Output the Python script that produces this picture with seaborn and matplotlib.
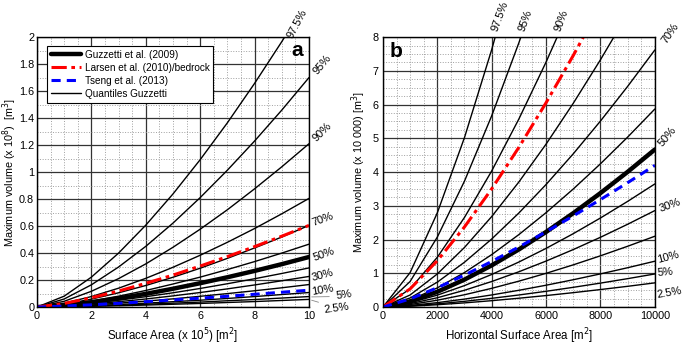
import numpy as np
import pandas as pd
import seaborn as sns
import matplotlib.pyplot as plt
from matplotlib.lines import Line2D
from matplotlib.ticker import MultipleLocator

# ---- data ----
quantiles = ['2.5%', '5%', '10%', '20%', '30%', '40%', '50%',
             '60%', '70%', '80%', '90%', '95%', '97.5%']

# panel a: surface area (x 10^5 m2), volume (x 10^8 m3)
area_a = [0, 1, 2, 3, 4, 5, 6, 7, 8, 9, 10]
quant_a = [
    [0, 0.002, 0.006, 0.010, 0.015, 0.021, 0.027, 0.034, 0.041, 0.049, 0.057],
    [0, 0.003, 0.008, 0.014, 0.021, 0.029, 0.037, 0.047, 0.056, 0.067, 0.078],
    [0, 0.004, 0.010, 0.019, 0.029, 0.040, 0.051, 0.064, 0.078, 0.093, 0.108],
    [0, 0.006, 0.016, 0.029, 0.044, 0.061, 0.080, 0.100, 0.121, 0.143, 0.167],
    [0, 0.008, 0.022, 0.040, 0.060, 0.083, 0.108, 0.135, 0.164, 0.195, 0.227],
    [0, 0.010, 0.028, 0.051, 0.077, 0.106, 0.138, 0.173, 0.210, 0.249, 0.290],
    [0, 0.013, 0.036, 0.065, 0.098, 0.136, 0.177, 0.221, 0.268, 0.318, 0.371],
    [0, 0.017, 0.045, 0.081, 0.123, 0.171, 0.222, 0.278, 0.337, 0.400, 0.466],
    [0, 0.021, 0.059, 0.106, 0.160, 0.221, 0.288, 0.361, 0.438, 0.519, 0.605],
    [0, 0.029, 0.078, 0.140, 0.213, 0.295, 0.384, 0.480, 0.582, 0.691, 0.805],
    [0, 0.043, 0.117, 0.211, 0.320, 0.443, 0.577, 0.721, 0.876, 1.039, 1.210],
    [0, 0.060, 0.165, 0.297, 0.450, 0.622, 0.811, 1.014, 1.230, 1.459, 1.700],
    [0, 0.081, 0.222, 0.400, 0.607, 0.838, 1.092, 1.365, 1.657, 1.966, 2.290],
]
guzzetti_a = [0, 0.013, 0.036, 0.065, 0.098, 0.136, 0.177, 0.221, 0.268, 0.318, 0.371]
larsen_a = [0, 0.027, 0.069, 0.119, 0.176, 0.237, 0.304, 0.374, 0.448, 0.525, 0.605]
tseng_a = [0, 0.007, 0.017, 0.028, 0.040, 0.053, 0.066, 0.080, 0.095, 0.110, 0.125]

# panel b: horizontal surface area (m2), volume (x 10 000 m3)
area_b = [0, 1000, 2000, 3000, 4000, 5000, 6000, 7000, 8000, 9000, 10000]
quant_b = [
    [0, 0.025, 0.070, 0.125, 0.190, 0.263, 0.342, 0.428, 0.520, 0.616, 0.718],
    [0, 0.035, 0.095, 0.171, 0.260, 0.359, 0.468, 0.586, 0.711, 0.843, 0.982],
    [0, 0.048, 0.132, 0.237, 0.360, 0.498, 0.648, 0.811, 0.984, 1.167, 1.360],
    [0, 0.075, 0.204, 0.366, 0.556, 0.769, 1.001, 1.252, 1.520, 1.803, 2.100],
    [0, 0.102, 0.277, 0.499, 0.758, 1.047, 1.364, 1.705, 2.069, 2.455, 2.860],
    [0, 0.130, 0.354, 0.637, 0.967, 1.336, 1.740, 2.176, 2.641, 3.133, 3.650],
    [0, 0.166, 0.453, 0.815, 1.237, 1.709, 2.227, 2.784, 3.379, 4.008, 4.670],
    [0, 0.208, 0.569, 1.024, 1.555, 2.149, 2.799, 3.500, 4.247, 5.038, 5.870],
    [0, 0.270, 0.739, 1.330, 2.018, 2.789, 3.633, 4.543, 5.514, 6.541, 7.620],
    [0, 0.359, 0.982, 1.768, 2.683, 3.708, 4.830, 6.040, 7.330, 8.695, 10.13],
    [0, 0.540, 1.476, 2.658, 4.034, 5.575, 7.261, 9.080, 11.02, 13.07, 15.23],
    [0, 0.759, 2.074, 3.734, 5.668, 7.833, 10.20, 12.76, 15.48, 18.37, 21.40],
    [0, 1.022, 2.792, 5.025, 7.628, 10.54, 13.73, 17.17, 20.84, 24.72, 28.80],
]
guzzetti_b = [0, 0.166, 0.453, 0.815, 1.237, 1.709, 2.227, 2.784, 3.379, 4.008, 4.670]
larsen_b = [0, 0.539, 1.374, 2.376, 3.503, 4.735, 6.056, 7.457, 8.931, 10.47, 12.07]
tseng_b = [0, 0.243, 0.574, 0.947, 1.352, 1.782, 2.233, 2.702, 3.187, 3.687, 4.200]

sns.set_style("white")
plt.rcParams['font.family'] = ['Liberation Sans', 'DejaVu Sans']
plt.rcParams['text.color'] = 'black'
plt.rcParams['axes.labelcolor'] = 'black'
plt.rcParams['xtick.color'] = 'black'
plt.rcParams['ytick.color'] = 'black'


def long_table(area, rows):
    recs = []
    for q, vals in zip(quantiles, rows):
        for a, v in zip(area, vals):
            recs.append((q, a, v))
    return pd.DataFrame(recs, columns=['q', 'area', 'vol'])


def draw(ax, area, rows, guz, lar, tse, xlim, ylim, xmaj, ymaj, xmin, ymin):
    ax.xaxis.set_major_locator(MultipleLocator(xmaj))
    ax.yaxis.set_major_locator(MultipleLocator(ymaj))
    ax.xaxis.set_minor_locator(MultipleLocator(xmin))
    ax.yaxis.set_minor_locator(MultipleLocator(ymin))
    ax.grid(which='minor', color='#a0a0a0', ls=':', lw=0.7)
    ax.grid(which='major', color='#333333', ls='-', lw=0.9)
    ax.set_axisbelow(True)
    df = long_table(area, rows)
    sns.lineplot(data=df, x='area', y='vol', units='q', estimator=None,
                 color='black', lw=1.0, ax=ax, legend=False)
    sns.lineplot(x=area, y=guz, color='black', lw=3.2, ax=ax)
    sns.lineplot(x=area, y=lar, color='red', lw=2.2, ax=ax)
    ax.lines[-1].set_dashes([5, 1.5, 1.2, 1.5])
    sns.lineplot(x=area, y=tse, color='blue', lw=2.2, ax=ax)
    ax.lines[-1].set_dashes([3, 2])
    ax.set_xlim(*xlim)
    ax.set_ylim(*ylim)
    ax.tick_params(which='both', length=0, labelsize=7.8, pad=3)
    for s in ax.spines.values():
        s.set_color('black')
        s.set_linewidth(1.0)


fig = plt.figure(figsize=(6.85, 3.47), dpi=100)
ax1 = fig.add_axes([0.054, 0.115, 0.397, 0.778])
ax2 = fig.add_axes([0.559, 0.115, 0.397, 0.778])

draw(ax1, area_a, quant_a, guzzetti_a, larsen_a, tseng_a,
     (0, 10), (0, 2), 2, 0.2, 0.5, 0.1)
draw(ax2, area_b, quant_b, guzzetti_b, larsen_b, tseng_b,
     (0, 10000), (0, 8), 2000, 1, 500, 0.25)

ax1.set_yticks(np.arange(0, 2.01, 0.2))
ax1.set_yticklabels(['0', '0.2', '0.4', '0.6', '0.8', '1', '1.2', '1.4', '1.6', '1.8', '2'])
ax1.tick_params(axis='y', pad=2)

ax1.set_xlabel('Surface Area (x 10$^5$) [m$^2$]', fontsize=8.3, labelpad=4)
ax1.set_ylabel('Maximum volume (x 10$^8$)  [m$^3$]', fontsize=7.8)
ax1.yaxis.set_label_coords(-0.066, 0.5)
ax2.set_xlabel('Horizontal Surface Area [m$^2$]', fontsize=8.3, labelpad=4)
ax2.set_ylabel('Maximum volume (x 10 000) [m$^3$]', fontsize=7.8, labelpad=3)

handles = [Line2D([], [], color='black', lw=3.2),
           Line2D([], [], color='red', lw=2.2, dashes=[5, 1.5, 1.2, 1.5]),
           Line2D([], [], color='blue', lw=2.2, dashes=[3, 2]),
           Line2D([], [], color='black', lw=1.0)]
labels = ['Guzzetti et al. (2009)', 'Larsen et al. (2010)/bedrock',
          'Tseng et al. (2013)', 'Quantiles Guzzetti']
leg = ax1.legend(handles, labels, loc='upper left', bbox_to_anchor=(0.035, 0.968),
                 borderaxespad=0, fontsize=7.2, handlelength=3.0, handletextpad=0.4,
                 labelspacing=0.3, borderpad=0.4, fancybox=False, framealpha=1)
leg.get_frame().set_edgecolor('black')
leg.get_frame().set_linewidth(0.8)

ax1.text(9.56, 1.90, 'a', fontsize=15, fontweight='bold', ha='center', va='center')
ax2.text(478, 7.58, 'b', fontsize=15, fontweight='bold', ha='center', va='center')

# quantile labels
lab_a = [('97.5%', 9.56, 2.10, 62), ('95%', 10.48, 1.80, 50), ('90%', 10.48, 1.30, 45),
         ('70%', 10.5, 0.65, 20), ('50%', 10.55, 0.39, 20), ('30%', 10.5, 0.237, 15),
         ('10%', 10.5, 0.126, 10), ('5%', 11.29, 0.089, 8), ('2.5%', 11.03, -0.007, 8)]
for t, x, y, r in lab_a:
    ax1.text(x, y, t, fontsize=8, rotation=r, ha='center', va='center', clip_on=False)
ax1.annotate('', xy=(10.0, 0.075), xytext=(10.85, 0.078),
             arrowprops=dict(arrowstyle='-', color='#888888', lw=0.6), annotation_clip=False)
ax1.annotate('', xy=(10.0, 0.057), xytext=(10.45, 0.03),
             arrowprops=dict(arrowstyle='-', color='#888888', lw=0.6), annotation_clip=False)

lab_b = [('97.5%', 4301, 8.62, 70), ('95%', 5257, 8.5, 70), ('90%', 6581, 8.5, 70),
         ('70%', 10551, 8.12, 55), ('50%', 10478, 5.04, 50), ('30%', 10551, 3.02, 20),
         ('10%', 10478, 1.48, 15), ('5%', 10370, 1.04, 5), ('2.5%', 10551, 0.41, 10)]
for t, x, y, r in lab_b:
    ax2.text(x, y, t, fontsize=8, rotation=r, ha='center', va='center', clip_on=False)

plt.savefig('out.png', dpi=100)
